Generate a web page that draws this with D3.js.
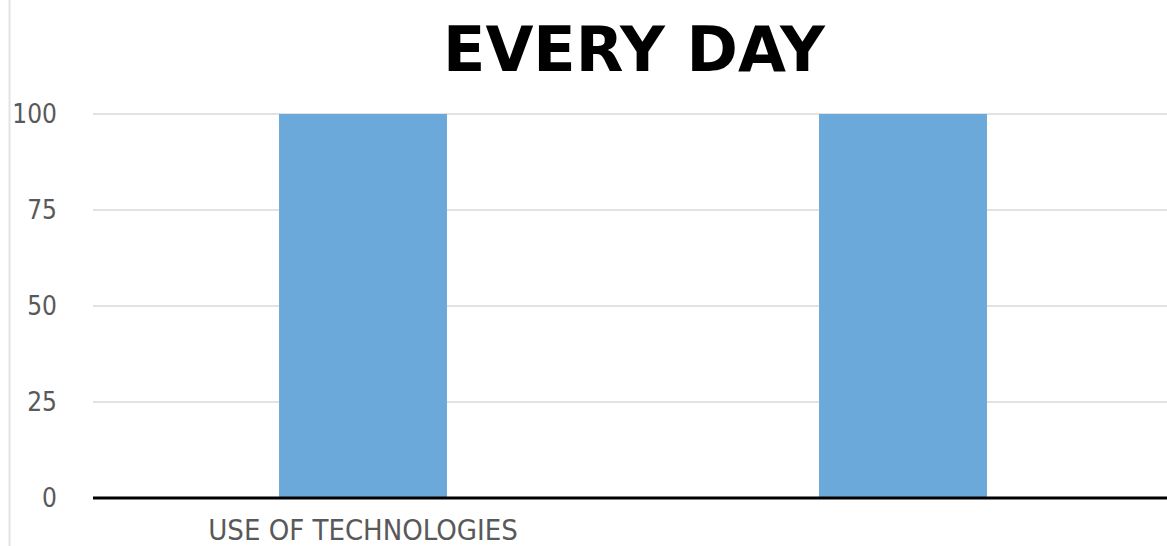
<!DOCTYPE html>
<html>
<head>
<meta charset="utf-8">
<script src="https://cdn.jsdelivr.net/npm/d3@7/dist/d3.min.js"></script>
<style>
  html, body { margin: 0; padding: 0; background: #fff; }
  svg { display: block; }
</style>
</head>
<body>
<svg id="chart" width="1167" height="546"></svg>
<script>
// Chart data
const title = "EVERY DAY";
const categories = ["USE OF TECHNOLOGIES", ""];
const values = [100, 100];
const yTicks = [0, 25, 50, 75, 100];

const width = 1167, height = 546;
const margin = { top: 114, right: -6, bottom: 48, left: 93 };

const svg = d3.select("#chart");

// left frame edge
svg.append("line")
  .attr("x1", 9.5).attr("x2", 9.5)
  .attr("y1", 0).attr("y2", height)
  .attr("stroke", "#e3e3e3").attr("stroke-width", 2);

const x = d3.scaleBand()
  .domain(categories)
  .range([margin.left, width - margin.right])
  .paddingInner(0.689)
  .paddingOuter(0.3445);

const y = d3.scaleLinear()
  .domain([0, 100])
  .range([height - margin.bottom, margin.top]);

// gridlines
svg.append("g")
  .selectAll("line")
  .data(yTicks.filter(d => d !== 0))
  .join("line")
  .attr("x1", margin.left).attr("x2", width)
  .attr("y1", d => y(d)).attr("y2", d => y(d))
  .attr("stroke", "#e2e2e2").attr("stroke-width", 2);

// y axis labels
const yAxis = d3.axisLeft(y).tickValues(yTicks).tickSize(0).tickPadding(0);
const yg = svg.append("g")
  .attr("transform", `translate(${57},0)`)
  .call(yAxis);
yg.select(".domain").remove();
yg.selectAll("text")
  .attr("fill", "#595959")
  .attr("font-family", "'DejaVu Sans Condensed', 'DejaVu Sans', sans-serif")
  .attr("font-size", 26);

// bars
svg.append("g")
  .selectAll("rect")
  .data(values)
  .join("rect")
  .attr("x", (d, i) => x(categories[i]))
  .attr("width", x.bandwidth())
  .attr("y", d => y(d))
  .attr("height", d => y(0) - y(d))
  .attr("fill", "#6aa9da");

// x axis baseline and category labels
const xAxis = d3.axisBottom(x).tickSize(0).tickPadding(21);
const xg = svg.append("g")
  .attr("transform", `translate(0,${y(0)})`)
  .call(xAxis);
xg.select(".domain").remove();
svg.append("line")
  .attr("x1", margin.left).attr("x2", width)
  .attr("y1", y(0)).attr("y2", y(0))
  .attr("stroke", "#000").attr("stroke-width", 3);
xg.selectAll("text")
  .attr("fill", "#595959")
  .attr("font-family", "'DejaVu Sans Condensed', 'DejaVu Sans', sans-serif")
  .attr("font-size", 29);

// title
svg.append("text")
  .attr("x", 634)
  .attr("y", 71)
  .attr("text-anchor", "middle")
  .attr("font-family", "'DejaVu Sans', Verdana, sans-serif")
  .attr("font-weight", "bold")
  .attr("font-size", 62)
  .attr("fill", "#000")
  .text(title);
</script>
</body>
</html>
